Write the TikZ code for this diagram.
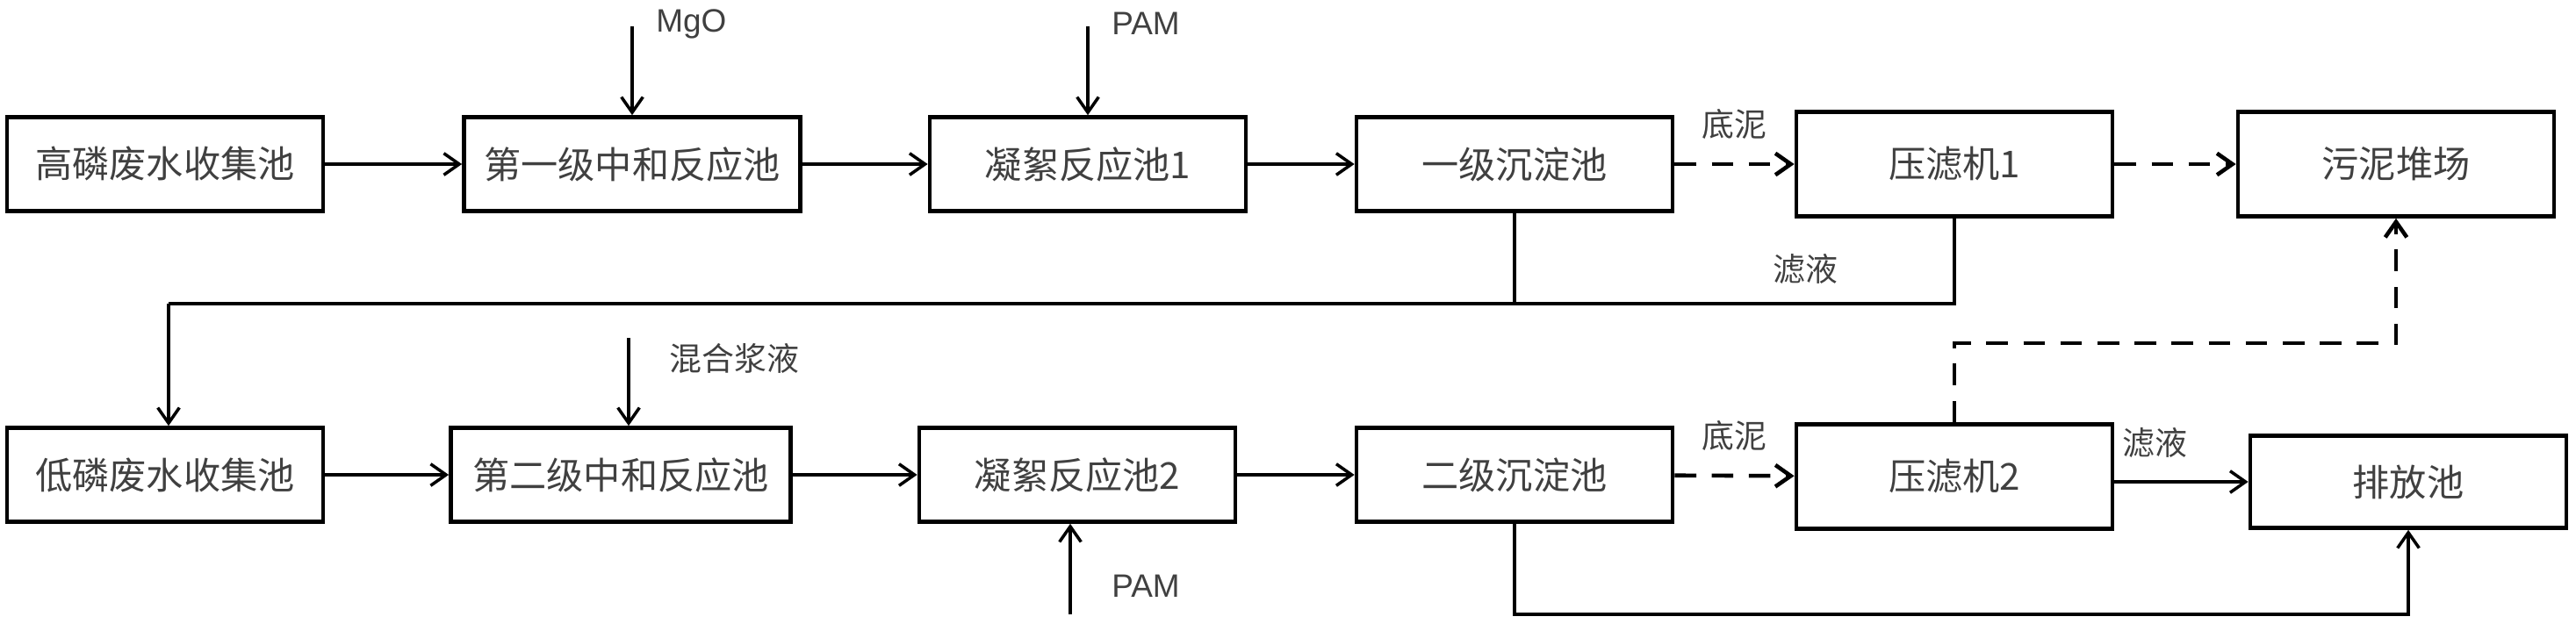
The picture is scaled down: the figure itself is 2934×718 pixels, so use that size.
\documentclass[tikz,border=0pt]{standalone}
\usepackage{fontspec}
\newfontfamily\cjk{Noto Sans CJK SC}
\usetikzlibrary{positioning,arrows.meta}
\begin{document}
\begin{tikzpicture}[>={Straight Barb[length=5pt,width=7pt]}, x=0.01cm, y=-0.01cm,
    box/.style={draw, line width=1.3pt, minimum width=3.6cm, minimum height=1.07cm, font=\cjk\fontsize{12}{14}\selectfont, text=black!75},
    lbl/.style={font=\cjk\fontsize{10.5}{12}\selectfont, text=black!75},
    flow/.style={->, line width=1pt},
    mud/.style={->, line width=1.3pt, dash pattern=on 7pt off 5pt}]
    \useasboundingbox (0,0) rectangle (2934,718);
    % first row
    \node[box] (high) at (188,187) {高磷废水收集池};
    \node[box, minimum width=3.83cm] (neut1) at (720,187) {第一级中和反应池};
    \node[box] (floc1) at (1239,187) {凝絮反应池1};
    \node[box] (sed1) at (1725,187) {一级沉淀池};
    \node[box, minimum height=1.19cm] (press1) at (2226,187) {压滤机1};
    \node[box, minimum height=1.19cm] (yard) at (2729,187) {污泥堆场};
    % second row
    \node[box] (low) at (188,541) {低磷废水收集池};
    \node[box, minimum width=3.87cm] (neut2) at (707,541) {第二级中和反应池};
    \node[box] (floc2) at (1227,541) {凝絮反应池2};
    \node[box] (sed2) at (1725,541) {二级沉淀池};
    \node[box, minimum height=1.19cm] (press2) at (2226,543) {压滤机2};
    \node[box, minimum height=1.05cm] (outlet) at (2743,549) {排放池};
    % dosing points
    \coordinate (mgo) at (720,30);
    \coordinate (pam1) at (1239,30);
    \coordinate (slurry) at (716,385);
    \coordinate (pam2) at (1219,700);
    \node[lbl, font=\fontspec{Liberation Sans}\fontsize{10.5}{12}\selectfont, anchor=west] (mgo_t) at (735,27) {MgO};
    \node[lbl, font=\fontspec{Liberation Sans}\fontsize{10.5}{12}\selectfont, anchor=west] (pam1_t) at (1254,27) {PAM};
    \node[lbl, anchor=west] (slurry_t) at (750,408) {混合浆液};
    \node[lbl, font=\fontspec{Liberation Sans}\fontsize{10.5}{12}\selectfont, anchor=west] (pam2_t) at (1254,668) {PAM};
    \draw[flow] (mgo) -- (neut1);
    \draw[flow] (pam1) -- (floc1);
    \draw[flow] (slurry) -- (neut2.north -| slurry);
    \draw[flow] (pam2) -- (floc2.south -| pam2);
    % main flow
    \draw[flow] (high) -- (neut1);
    \draw[flow] (neut1) -- (floc1);
    \draw[flow] (floc1) -- (sed1);
    \draw[mud] (sed1) -- node[lbl, above=4pt] {底泥} (press1);
    \draw[mud] (press1) -- (yard);
    \draw[flow] (low) -- (neut2);
    \draw[flow] (neut2) -- (floc2);
    \draw[flow] (floc2) -- (sed2);
    \draw[mud] (sed2) -- node[lbl, above=4pt] {底泥} (press2);
    \draw[flow] (press2.east |- outlet) -- node[lbl, above=4pt, pos=0.3] {滤液} (outlet);
    % return and bypass lines
    \coordinate (ret) at (192,346);
    \node[lbl] (filt1) at (2056,307) {滤液};
    \draw[line width=1pt] (sed1) |- (ret);
    \draw[line width=1pt] (press1.south) |- (ret);
    \draw[flow] (ret) -- (low.north -| ret);
    \draw[mud] (press2.north) |- (2729,391) -- (yard.south);
    \draw[flow] (sed2.south) |- (2743,700) -- (outlet.south);
\end{tikzpicture}
\end{document}
